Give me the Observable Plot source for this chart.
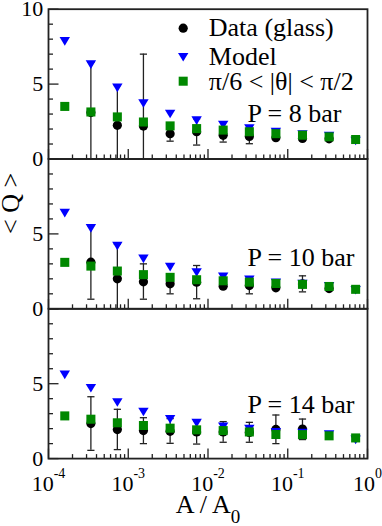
<!DOCTYPE html>
<html><head><meta charset="utf-8">
<script src="https://cdn.jsdelivr.net/npm/d3@7"></script>
<script src="https://cdn.jsdelivr.net/npm/@observablehq/plot@0.6"></script>
<style>
body{margin:0;background:#fff;}
#chart{position:relative;width:382px;height:526px;overflow:hidden;}
#chart svg{position:absolute;left:0;top:0;}
#chart svg text{font-family:'Liberation Serif','Times New Roman',serif;}
</style></head><body><div id="chart"></div>
<script>
// ---- data ----
const area = [1.6e-4, 3.4e-4, 7.3e-4, 1.55e-3, 3.35e-3, 7.2e-3, 1.55e-2, 3.3e-2, 7.1e-2, 0.153, 0.33, 0.71];
const panelLabels = ["P = 8 bar", "P = 10 bar", "P = 14 bar"];
const legendLabels = ["Data (glass)", "Model", "π/6 < |θ| < π/2"];
const xTickValues = [1e-4, 1e-3, 1e-2, 1e-1, 1];
const xTickExponents = ["-4", "-3", "-2", "-1", "0"];
const yTicksTop = [0, 5, 10];
const yTicksOther = [0, 5];
const yMinorTicks = [1, 2, 3, 4, 6, 7, 8, 9];
const yMajorTicks = [0, 5, 10];

// P = 8 bar
const data8  = [null, 3.1, 2.25, 2.2, 1.69, 1.82, 1.58, 1.51, 1.42, 1.37, 1.35, null];
const lo8    = [null, 0, 0, 0, 1.19, 0.93, 1.13, 1.02, null, null, null, null];
const hi8    = [null, 6.45, 4.9, 7.0, 2.19, 2.68, 2.03, 2.0, null, null, null, null];
const model8 = [7.85, 6.3, 4.75, 3.7, 3.0, 2.56, 2.27, 2.03, 1.8, 1.64, 1.53, 1.2];
const green8 = [3.51, 3.14, 2.81, 2.47, 2.21, 2.03, 1.93, 1.82, 1.69, 1.59, 1.48, 1.3];

// P = 10 bar
const data10  = [null, 3.11, 2.0, 1.8, 1.67, 1.78, 1.51, 1.55, 1.4, 1.66, 1.35, null];
const lo10    = [null, 0.64, 0, 0.64, 1.0, 0.67, null, 1.0, null, 1.13, null, null];
const hi10    = [null, 5.55, 4.32, 3.0, 2.34, 2.89, null, 2.1, null, 2.2, null, null];
const model10 = [6.39, 5.37, 4.19, 3.33, 2.78, 2.42, 2.13, 1.93, 1.73, 1.65, 1.51, 1.24];
const green10 = [3.1, 2.85, 2.52, 2.28, 2.1, 1.94, 1.87, 1.78, 1.69, 1.63, 1.49, 1.3];

// P = 14 bar
const data14  = [null, 2.34, 1.94, 1.87, 1.82, 1.78, 1.78, 1.75, 1.95, 1.97, null, null];
const lo14    = [null, 0.55, 0.6, 1.0, 1.02, 0.97, 1.09, 1.09, 1.0, 1.27, null, null];
const hi14    = [null, 4.13, 3.29, 2.73, 2.67, 2.5, 2.47, 2.42, 2.91, 2.64, null, null];
const model14 = [5.59, 4.7, 3.74, 3.11, 2.63, 2.37, 2.13, 1.97, 1.75, 1.71, 1.6, 1.25];
const green14 = [2.85, 2.63, 2.39, 2.21, 2.03, 1.92, 1.87, 1.78, 1.61, 1.6, 1.52, 1.38];

const series = [
  {data: data8, lo: lo8, hi: hi8, model: model8, green: green8},
  {data: data10, lo: lo10, hi: hi10, model: model10, green: green10},
  {data: data14, lo: lo14, hi: hi14, model: model14, green: green14}
];

// ---- layout ----
const W = 382, H = 526, ML = 48, MR = 15, TOP = 8.7, PH = 149.8;
const FONT = "'Liberation Serif', 'Times New Roman', serif";
const BLUE = "#0000ff", GREEN = "#008800", AXIS = "#222";

const xMinorTicks = [];
for (let e = -4; e < 0; e++) for (let m = 2; m <= 9; m++) xMinorTicks.push(m * Math.pow(10, e));

const vTick = len => ({draw(c) { c.moveTo(0, 0); c.lineTo(0, -len); }});
const hTick = len => ({draw(c) { c.moveTo(0, 0); c.lineTo(len, 0); }});
const cap = {draw(c) { c.moveTo(-3.6, 0); c.lineTo(3.6, 0); }};
const triDown = {draw(c) { const w = 10.4, h = 8.6; c.moveTo(-w/2, -h/2); c.lineTo(w/2, -h/2); c.lineTo(0, h/2); c.closePath(); }};

const labelDy = [112.3, 107, 104.5];
const legendDy = [26.3, 56, 80.6];
const chart = document.getElementById("chart");

series.forEach((s, i) => {
  const rows = area.map((x, k) => ({x, data: s.data[k], lo: s.lo[k], hi: s.hi[k], model: s.model[k], green: s.green[k]}));
  const errRows = rows.filter(d => d.data != null && d.lo != null);
  const top = TOP + i * PH;
  const marks = [
    Plot.ruleX(errRows, {x: "x", y1: "lo", y2: "hi", stroke: AXIS, strokeWidth: 1.3}),
    Plot.dot(errRows.filter(d => d.lo > 0), {x: "x", y: "lo", symbol: cap, stroke: AXIS, fill: "none", strokeWidth: 1.3}),
    Plot.dot(errRows, {x: "x", y: "hi", symbol: cap, stroke: AXIS, fill: "none", strokeWidth: 1.3}),
    Plot.dot(rows, {x: "x", y: "data", r: 4.6, fill: "black"}),
    Plot.dot(rows, {x: "x", y: "model", symbol: triDown, fill: BLUE, stroke: "none"}),
    Plot.dot(rows, {x: "x", y: "green", symbol: "square", r: 5.1, fill: GREEN, stroke: "none"}),
    Plot.dot(xTickValues, {x: d => d, frameAnchor: "bottom", symbol: vTick(10), stroke: AXIS, fill: "none", strokeWidth: 1.3}),
    Plot.dot(xMinorTicks, {x: d => d, frameAnchor: "bottom", symbol: vTick(4.5), stroke: AXIS, fill: "none", strokeWidth: 1.3}),
    Plot.dot(yMajorTicks, {y: d => d, frameAnchor: "left", symbol: hTick(10), stroke: AXIS, fill: "none", strokeWidth: 1.3}),
    Plot.dot(yMinorTicks, {y: d => d, frameAnchor: "left", symbol: hTick(4.5), stroke: AXIS, fill: "none", strokeWidth: 1.3}),
    Plot.frame({stroke: AXIS, strokeWidth: 1.8}),
    Plot.axisY({ticks: i === 0 ? yTicksTop : yTicksOther, tickSize: 0, tickPadding: 5.3, fontSize: 22, fontFamily: FONT, label: null, tickFormat: d => String(d)}),
    Plot.text([panelLabels[i]], {text: d => d, frameAnchor: "top-left", dx: 199, dy: labelDy[i], textAnchor: "start", lineAnchor: "bottom", fontSize: 26, fontFamily: FONT})
  ];
  if (i === 0) {
    marks.push(
      Plot.dot([0], {frameAnchor: "top-left", dx: 134.7, dy: 19, r: 4.6, fill: "black"}),
      Plot.dot([0], {frameAnchor: "top-left", dx: 134.7, dy: 48, symbol: triDown, fill: BLUE, stroke: "none"}),
      Plot.dot([0], {frameAnchor: "top-left", dx: 134.7, dy: 72, symbol: "square", r: 5.1, fill: GREEN, stroke: "none"})
    );
    legendLabels.forEach((lab, k) => marks.push(
      Plot.text([lab], {text: d => d, frameAnchor: "top-left", dx: 160.3, dy: legendDy[k], textAnchor: "start", lineAnchor: "bottom", fontSize: 26, fontFamily: FONT})
    ));
  }
  if (i === 1) {
    marks.push(Plot.text(["< Q >"], {text: d => d, frameAnchor: "left", dx: -38, rotate: -90, fontSize: 26, fontFamily: FONT, lineAnchor: "middle"}));
  }
  if (i === 2) {
    marks.push(
      Plot.axisX({ticks: xTickValues, tickSize: 0, tickPadding: 16.3, fontSize: 22, fontFamily: FONT, label: null, tickFormat: d => xTickExponents[xTickValues.indexOf(d)]}),
      Plot.text(["A / A"], {text: d => d, frameAnchor: "bottom", dy: 54.4, lineAnchor: "bottom", fontSize: 26, fontFamily: FONT})
    );
  }
  const svg = Plot.plot({
    width: W, height: H,
    marginLeft: ML, marginRight: MR, marginTop: top, marginBottom: H - top - PH,
    x: {type: "log", domain: [1e-4, 1], axis: null},
    y: {domain: [0, 10], axis: null},
    style: {background: "transparent", overflow: "visible", fontFamily: FONT, fontSize: "22px", color: "black"},
    marks
  });
  chart.appendChild(svg);

  if (i === 2) {
    svg.querySelectorAll('g[aria-label="x-axis tick label"] text').forEach(t => {
      const exp = t.textContent;
      t.textContent = "";
      const base = document.createElementNS("http://www.w3.org/2000/svg", "tspan");
      base.textContent = "10";
      const sup = document.createElementNS("http://www.w3.org/2000/svg", "tspan");
      sup.textContent = exp;
      sup.setAttribute("dy", "-13");
      sup.setAttribute("font-size", "14");
      t.appendChild(base); t.appendChild(sup);
    });
    const xt = Array.from(svg.querySelectorAll("text")).find(t => t.textContent === "A / A");
    if (xt) {
      const sub = document.createElementNS("http://www.w3.org/2000/svg", "tspan");
      sub.textContent = "0";
      sub.setAttribute("dy", "10");
      sub.setAttribute("font-size", "19");
      xt.appendChild(sub);
    }
  }
});
</script></body></html>
